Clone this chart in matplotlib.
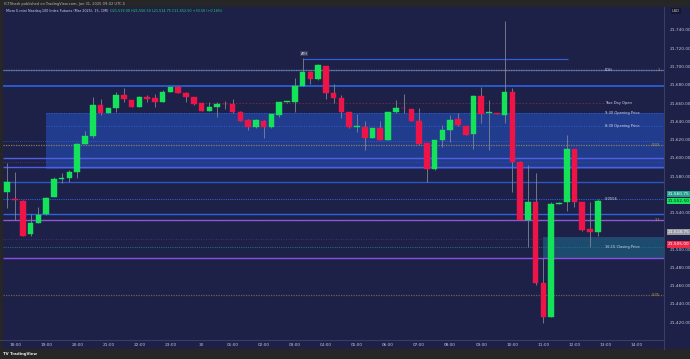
import matplotlib
matplotlib.use("Agg")
import matplotlib.pyplot as plt
from matplotlib.patches import Rectangle
from matplotlib.lines import Line2D

# ---------------- data ----------------
opens = [21562.5, 21554.75, 21552.5, 21516.5, 21528.75, 21538.0, 21557.0, 21576.5, 21578.0, 21584.0,
         21615.5, 21624.25, 21657.5, 21649.5, 21654.25, 21668.5, 21663.25, 21656.0, 21667.0, 21665.0,
         21661.5, 21672.5, 21677.25, 21671.25, 21666.25, 21659.75, 21651.5, 21656.0, 21659.0, 21658.5,
         21649.75, 21641.5, 21633.5, 21640.5, 21633.5, 21646.75, 21661.0, 21660.75, 21679.0, 21694.25,
         21686.25, 21700.5, 21670.5, 21665.0, 21649.75, 21633.75, 21634.0, 21622.0, 21632.25, 21619.5,
         21649.75, 21654.25, 21653.0, 21640.25, 21615.75, 21587.25, 21619.5, 21630.5, 21642.0, 21634.75,
         21626.0, 21667.75, 21648.75, 21648.25, 21646.75, 21672.5, 21595.75, 21531.75, 21551.25, 21462.5,
         21425.75, 21549.75, 21551.25, 21609.5, 21551.25, 21521.5, 21518.25]
closes = [21573.5, 21554.25, 21514.25, 21528.5, 21537.25, 21556.25, 21576.75, 21578.0, 21584.0, 21615.5,
          21624.25, 21657.5, 21649.5, 21654.25, 21668.5, 21664.0, 21656.0, 21667.0, 21664.5, 21661.5,
          21672.5, 21677.25, 21670.5, 21666.25, 21659.0, 21651.5, 21655.25, 21658.5, 21658.5, 21649.75,
          21640.5, 21633.5, 21641.5, 21633.5, 21647.5, 21660.75, 21661.25, 21679.0, 21694.25, 21686.25,
          21701.5, 21670.5, 21665.0, 21650.5, 21633.5, 21634.25, 21622.0, 21632.25, 21619.5, 21649.75,
          21654.25, 21654.0, 21640.25, 21614.75, 21587.25, 21619.5, 21630.5, 21641.5, 21636.0, 21625.0,
          21667.75, 21648.0, 21649.25, 21647.75, 21671.75, 21595.75, 21531.75, 21551.25, 21462.5, 21425.0,
          21549.25, 21550.5, 21609.5, 21551.75, 21520.75, 21518.25, 21552.5]
highs = [21594.25, 21584.5, 21553.75, 21538.25, 21546.25, 21557.0, 21579.25, 21583.5, 21586.5, 21616.25,
         21629.25, 21666.25, 21664.0, 21654.5, 21672.5, 21676.0, 21663.75, 21667.75, 21668.75, 21670.0,
         21674.25, 21677.5, 21679.0, 21672.0, 21666.5, 21660.0, 21660.75, 21660.75, 21662.25, 21664.5,
         21651.5, 21642.0, 21642.0, 21641.5, 21648.0, 21661.0, 21661.5, 21687.0, 21709.0, 21695.0,
         21702.25, 21701.0, 21680.75, 21668.75, 21650.0, 21648.0, 21640.5, 21632.5, 21640.25, 21650.0,
         21663.25, 21670.0, 21653.5, 21654.25, 21616.25, 21620.0, 21636.0, 21646.75, 21649.5, 21635.25,
         21668.25, 21678.0, 21663.25, 21648.5, 21750.0, 21676.0, 21596.0, 21592.0, 21583.5, 21489.75,
         21551.75, 21551.0, 21625.0, 21610.0, 21551.5, 21551.75, 21554.5]
lows = [21545.0, 21531.75, 21513.75, 21514.25, 21528.5, 21537.25, 21556.5, 21572.0, 21573.75, 21578.0,
        21615.0, 21621.25, 21646.75, 21649.0, 21649.75, 21661.5, 21655.5, 21655.5, 21660.75, 21655.25,
        21661.0, 21672.0, 21670.5, 21660.75, 21658.25, 21651.25, 21651.25, 21645.0, 21653.5, 21649.5,
        21640.25, 21630.5, 21633.0, 21622.0, 21633.0, 21645.0, 21660.5, 21649.75, 21678.5, 21680.5,
        21685.75, 21664.5, 21659.75, 21643.25, 21633.0, 21628.5, 21608.5, 21621.5, 21619.0, 21619.0,
        21649.5, 21648.75, 21639.75, 21614.5, 21573.75, 21587.0, 21612.0, 21617.5, 21635.25, 21624.5,
        21609.25, 21638.5, 21608.5, 21647.5, 21638.5, 21562.75, 21531.25, 21501.75, 21460.5, 21419.25,
        21425.5, 21549.25, 21542.0, 21546.25, 21520.25, 21502.5, 21514.25]

tick_pos = [1, 5, 9, 13, 17, 21, 25, 29, 33, 37, 41, 45, 49, 53, 57, 61, 65, 69, 73, 77, 81]
tick_labels = ["18:00", "19:00", "20:00", "21:00", "22:00", "23:00", "30", "01:00", "02:00",
               "03:00", "04:00", "05:00", "06:00", "07:00", "08:00", "09:00", "10:00", "11:00",
               "12:00", "13:00", "14:00"]
price_ticks = [21420, 21440, 21460, 21480, 21500, 21520, 21540, 21560, 21580, 21600,
               21620, 21640, 21660, 21680, 21700, 21720, 21740]

# key levels
ath = 21708.25
pdh = 21696.25
level_blue_top = 21679.0
true_day_open = 21659.75
open_930 = 21649.5
open_830 = 21634.75
fib_023 = 21614.0
zone_low = 21587.25
blue_levels = [21600.25, 21589.75, 21573.75, 21538.25]
fib_0056 = 21555.25
fib_11 = 21531.5
teal_zone_top = 21513.5
teal_zone_low = 21489.75
close_1615 = 21502.5
purple_low = 21489.75
fib_075 = 21449.5

# axis price labels (price, bg, fg)
axis_marks = [(21560.75, "#22a08e", "#ffffff"), (21552.50, "#16e35c", "#10201a"),
              (21518.75, "#9a9ca4", "#ffffff"), (21505.00, "#f0284a", "#ffffff")]

# ---------------- figure ----------------
W, H = 690, 359
BG = "#1d2047"
fig = plt.figure(figsize=(W / 100, H / 100), dpi=100, facecolor=BG)

ax_l, ax_r, ax_t, ax_b = 3, 664, 7, 340
ax = fig.add_axes([ax_l / W, 1 - ax_b / H, (ax_r - ax_l) / W, (ax_b - ax_t) / H])
ax.set_facecolor(BG)
x0, x1 = -0.553, 84.52
ax.set_xlim(x0, x1)
ax.set_ylim(21400.3, 21765.2)
for s in ax.spines.values():
    s.set_visible(False)

# zones
ax.add_patch(Rectangle((5, zone_low), x1 - 5, open_930 - zone_low,
                       facecolor="#2446a6", alpha=0.75, edgecolor="none", zorder=1))
ax.add_patch(Rectangle((69, teal_zone_low), x1 - 69, teal_zone_top - teal_zone_low,
                       facecolor="#1e5a7c", alpha=0.75, edgecolor="none", zorder=1))

LB = "#2f5fd6"
PUR = "#8b4fe8"
# lines
ax.hlines(ath, 38, 72.2, color=LB, lw=0.9, zorder=2)
ax.hlines(pdh, x0, x1, color=LB, lw=0.9, zorder=2)
ax.hlines(pdh, x0, x1, color="#8c7b5c", lw=0.9, linestyles=(0, (1, 1)), zorder=2)
ax.hlines(level_blue_top, x0, x1, color="#2d63e0", lw=1.2, zorder=2)
ax.hlines(true_day_open, 25, 77, color="#7a2a3e", lw=0.6, linestyles=(0, (2, 2)), zorder=2)
ax.hlines(open_930, 5, x1, color="#3568e0", lw=0.6, linestyles=(0, (1, 2)), zorder=2)
ax.hlines(open_830, 5, x1, color="#3568e0", lw=0.6, linestyles=(0, (1, 2)), zorder=2)
ax.hlines(21618.25, x0, x1, color="#4470e8", lw=0.5, linestyles=(0, (1, 2)), zorder=2)
ax.hlines(fib_023, x0, x1, color="#8c7b5c", lw=0.9, linestyles=(0, (1, 1)), zorder=2)
ax.hlines(blue_levels[0], x0, x1, color="#5060e0", lw=1.0, zorder=2)
ax.hlines(21595.0, x0, x1, color="#5a4aa8", lw=0.5, linestyles=(0, (1, 2)), zorder=2)
ax.hlines(blue_levels[1], x0, x1, color="#5060e0", lw=1.0, zorder=2)
ax.hlines(blue_levels[2], x0, x1, color="#2c56c4", lw=1.0, zorder=2)
ax.hlines(fib_0056, x0, x1, color="#2d5fd8", lw=0.8, linestyles=(0, (1, 1)), zorder=2)
ax.hlines(blue_levels[3], x0, x1, color="#2d63e0", lw=1.0, zorder=2)
ax.hlines(fib_11, x0, x1, color=PUR, lw=1.0, zorder=2)
ax.hlines(fib_11, x0, x1, color="#8c7b8c", lw=0.6, linestyles=(0, (1, 2)), zorder=2)
ax.hlines(21510.5, x0, x1, color="#4a3a8a", lw=0.6, linestyles=(0, (1, 2)), zorder=2)
ax.hlines(close_1615, x0, x1, color="#1f6a8a", lw=0.8, linestyles=(0, (1, 1)), zorder=2)
ax.hlines(purple_low, x0, x1, color=PUR, lw=1.0, zorder=2)
ax.hlines(fib_075, x0, x1, color="#6e6048", lw=0.9, linestyles=(0, (1, 1)), zorder=2)

# candles
UP, DN, WICK = "#14e35a", "#ee1448", "#7f8494"
for i in range(len(opens)):
    o, c, h, l = opens[i], closes[i], highs[i], lows[i]
    ax.vlines(i, l, h, color=WICK, lw=0.6, zorder=3)
    col = UP if c >= o else DN
    bot = min(o, c)
    hgt = max(abs(c - o), 0.9)
    ax.add_patch(Rectangle((i - 0.36, bot), 0.72, hgt, facecolor=col, edgecolor=col,
                           lw=0.3, zorder=4))

# level labels
TXT = "#d8dae4"
YEL = "#c9a23c"
fs = 2.6
ax.text(76.9, pdh, "PDH", color=TXT, fontsize=fs, va="center", ha="left", zorder=5)
ax.text(84.0, pdh, "1", color=YEL, fontsize=fs, va="center", ha="right", zorder=5)
ax.text(38.2, ath + 3.5, "ATH", color=TXT, fontsize=fs, va="bottom", ha="center", zorder=5,
        bbox=dict(boxstyle="square,pad=0.2", fc="#3a3d5a", ec="none"))
ax.text(76.9, true_day_open, "True Day Open", color=TXT, fontsize=fs, va="center", ha="left", zorder=5)
ax.text(76.9, open_930, "9:30 Opening Price", color=TXT, fontsize=fs, va="center", ha="left", zorder=5)
ax.text(76.9, open_830, "8:30 Opening Price", color=TXT, fontsize=fs, va="center", ha="left", zorder=5)
ax.text(84.0, fib_023, "0.23", color=YEL, fontsize=fs, va="center", ha="right", zorder=5)
ax.text(76.9, fib_0056, "0.0556", color=TXT, fontsize=fs, va="center", ha="left", zorder=5)
ax.text(84.0, fib_11, "1.1", color=YEL, fontsize=fs, va="center", ha="right", zorder=5)
ax.text(76.9, close_1615, "16:15 Closing Price", color=TXT, fontsize=fs, va="center", ha="left", zorder=5)
ax.text(84.0, fib_075, "0.75", color=YEL, fontsize=fs, va="center", ha="right", zorder=5)

# axes ticks (tick labels hidden behind the highlighted price boxes are left blank)
covered = [21520, 21560]
ax.set_xticks(tick_pos)
ax.set_xticklabels(tick_labels)
ax.set_yticks(price_ticks)
ax.set_yticklabels(["" if p in covered else f"{p:,.2f}" for p in price_ticks])
ax.yaxis.tick_right()
ax.tick_params(axis="both", length=0, colors="#c3c6d2", labelsize=3.1)
ax.tick_params(axis="x", pad=2.2)
ax.tick_params(axis="y", pad=4)
ax.set_ylim(21400.3, 21765.2)

for p, bg, fg in axis_marks:
    ax.text(1.006, p, f"{p:,.2f}", transform=ax.get_yaxis_transform(), color=fg,
            fontsize=3.1, va="center", ha="left", clip_on=False, zorder=6,
            bbox=dict(boxstyle="square,pad=0.25", fc=bg, ec="none"))

# chrome
DARK = "#262626"
fig.patches.append(Rectangle((0, 1 - 7 / H), 1, 7 / H, transform=fig.transFigure,
                             fc=DARK, ec="none", zorder=0))
fig.patches.append(Rectangle((0, 0), 1, 10 / H, transform=fig.transFigure,
                             fc=DARK, ec="none", zorder=0))
fig.patches.append(Rectangle((0, 0), 3 / W, 1, transform=fig.transFigure,
                             fc=DARK, ec="none", zorder=0))
fig.lines.append(Line2D([0, ax_r / W], [1 - 340 / H, 1 - 340 / H], transform=fig.transFigure,
                        color="#3a3e62", lw=0.8))
fig.lines.append(Line2D([ax_r / W, ax_r / W], [10 / H, 1 - 7 / H], transform=fig.transFigure,
                        color="#3a3e62", lw=0.8))

fig.text(4 / W, 1 - 3.5 / H, "ICTShark published on TradingView.com, Jan 31, 2025 09:02 UTC-5",
         color="#b8b8b8", fontsize=2.6, va="center", ha="left")
fig.text(6 / W, 1 - 11 / H,
         "Micro E-mini Nasdaq-100 Index Futures (Mar 2025), 15, CME",
         color="#d0d3dc", fontsize=2.4, va="center", ha="left")
fig.text(110 / W, 1 - 11 / H,
         "O21,519.00 H21,556.50 L21,514.75 C21,552.50 +33.50 (+0.16%)",
         color="#22d36a", fontsize=2.4, va="center", ha="left")
fig.text(676 / W, 1 - 11 / H, "USD", color="#d0d3dc", fontsize=2.6, va="center", ha="center",
         bbox=dict(boxstyle="square,pad=0.4", fc="#15172c", ec="none"))
fig.text(3 / W, 5 / H, "TV TradingView", color="#e8e8e8", fontsize=2.8, va="center", ha="left",
         fontweight="bold")

fig.savefig("out.png", dpi=100, facecolor=BG)
